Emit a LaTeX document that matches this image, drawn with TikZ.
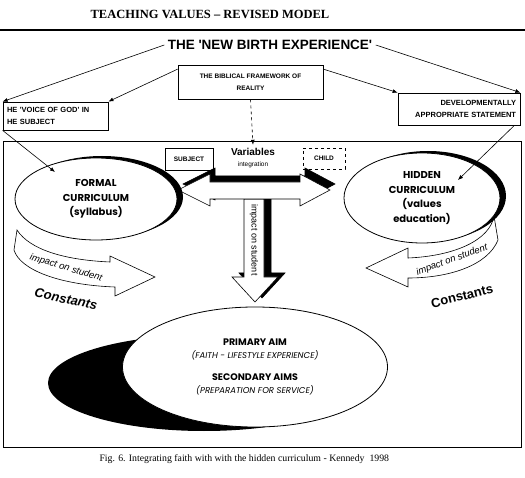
\documentclass[tikz,border=0pt]{standalone}
\usepackage{fontspec}
\setmainfont{Liberation Serif}
\setsansfont{Liberation Sans}
\newfontfamily\gothic{Poppins}
\usepackage{tikz}
\usetikzlibrary{arrows.meta, positioning, shapes.geometric, shadows}
\tikzset{
  box/.style     ={rectangle, draw=black, line width=0.8pt, fill=white,
                   inner sep=1pt, align=center,
                   font=\sffamily\bfseries\fontsize{6.5}{11.5}\selectfont},
  curric/.style  ={ellipse, draw=black, thick, fill=white, inner sep=0pt,
                   align=center, font=\gothic\bfseries\fontsize{10}{14.5}\selectfont,
                   drop shadow={shadow xshift=6pt, shadow yshift=2pt,
                                fill=black, opacity=1}},
  link/.style    ={-{Latex[length=5pt, width=4pt]}, line width=0.6pt, black},
  blockarrow/.style={draw=black, line width=0.6pt},
  bandtext/.style={font=\sffamily\itshape\fontsize{9.5}{11}\selectfont, inner sep=0pt},
  const/.style   ={font=\sffamily\bfseries\fontsize{13}{14}\selectfont, inner sep=0pt}
}
\begin{document}
\begin{tikzpicture}[x=1pt, y=-1pt,
  aims/.style={ellipse, draw=black, thick, fill=white, inner sep=0pt,
               align=center, font=\gothic\bfseries\fontsize{9.5}{13}\selectfont}
]
\useasboundingbox (0,0) rectangle (525,478);

% Heading
\node[font=\rmfamily\bfseries\fontsize{12.5}{14}\selectfont] (title) at (210,14)
     {TEACHING VALUES -- REVISED MODEL};
\draw[line width=1.2pt] (0,30) -- (525,30);

% Statements along the top
\node[font=\sffamily\bfseries\fontsize{13.5}{15}\selectfont] (birth) at (270,45)
     {THE \textquotesingle NEW BIRTH EXPERIENCE\textquotesingle};
\node[box, minimum width=145pt, minimum height=34pt] (biblical) at (250.5,82)
     {THE BIBLICAL FRAMEWORK OF\\REALITY};
\node[box, font=\sffamily\bfseries\fontsize{7.5}{11.5}\selectfont,
      minimum width=105pt, minimum height=28pt, align=left, text width=97pt]
     (voice) at (55.5,116) {HE \textquotesingle VOICE OF GOD\textquotesingle{} IN\\HE SUBJECT};
\node[box, font=\sffamily\bfseries\fontsize{7.5}{12.5}\selectfont,
      minimum width=122pt, minimum height=32pt, align=right, text width=114pt]
     (devel) at (459,109) {DEVELOPMENTALLY\\APPROPRIATE STATEMENT};

% Outer frame
\draw[thick] (3,141) rectangle (521,447);

% Variables (centre)
\node[font=\sffamily\bfseries\fontsize{10}{12}\selectfont] (variab) at (253,152) {Variables};
\node[font=\sffamily\fontsize{6.5}{8}\selectfont] (integ) at (253,165) {integration};
\node[box, minimum width=48pt, minimum height=22pt] (subject) at (189,159) {SUBJECT};
\node[box, dashed, minimum width=42pt, minimum height=21pt] (child) at (324,158.5) {CHILD};

% Block arrows with black offset shadow
\foreach \dx/\dy/\fc in {7/-4/black, 0/0/white}{
  \filldraw[blockarrow, fill=\fc, shift={(\dx,\dy)}]
    (244,199) -- (264,199) -- (264,277) -- (278,277) -- (255,302)
    -- (232,277) -- (244,277) -- cycle;
}
\foreach \dx/\dy/\fc in {5/-6/black, 0/0/white}{
  \filldraw[blockarrow, fill=\fc, shift={(\dx,\dy)}]
    (178,190) -- (210,174) -- (210,182) -- (300,182) -- (300,174) -- (330,190)
    -- (300,206) -- (300,199) -- (210,199) -- (210,206) -- cycle;
}
\node[font=\sffamily\fontsize{9}{10}\selectfont, rotate=-90] (impactv) at (254,240)
     {impact on student};

% Curved bands round the curricula
\filldraw[blockarrow, fill=white]
  (17,230) .. controls (30,250) and (65,260) .. (110,262) -- (110,256)
  -- (155,277) -- (115,296) -- (115,287)
  .. controls (60,285) and (20,270) .. (14,250) -- cycle;
\filldraw[blockarrow, fill=white]
  (408,258) .. controls (455,256) and (490,240) .. (494,216) -- (498,240)
  .. controls (488,265) and (450,278) .. (408,278) -- (408,287)
  -- (366,268) -- (408,248) -- cycle;
\node[bandtext, rotate=-17] (impactl) at (66,268) {impact on student};
\node[bandtext, rotate=20]  (impactr) at (452,260) {impact on student};
\node[const, font=\sffamily\bfseries\itshape\fontsize{13}{14}\selectfont, rotate=-12]
     (constl) at (66,299) {Constants};
\node[const, rotate=14]  (constr) at (462,296) {Constants};

% Curricula
\node[curric, minimum width=162pt, minimum height=82pt] (formal) at (96,199)
     {FORMAL\\CURRICULUM\\(syllabus)};
\node[curric, minimum width=156pt, minimum height=90pt] (hidden) at (422,198)
     {HIDDEN\\CURRICULUM\\(values\\education)};

% Aims
\fill[black] (204,383) ellipse [x radius=156, y radius=48];
\node[aims, minimum width=265pt, minimum height=120pt] (aims) at (255,367)
     {PRIMARY AIM\\
      {\itshape\mdseries\fontsize{8.5}{13}\selectfont (FAITH - LIFESTYLE EXPERIENCE)}\\[9pt]
      SECONDARY AIMS\\
      {\itshape\mdseries\fontsize{8.5}{13}\selectfont (PREPARATION FOR SERVICE)}};

% Connectors
\coordinate (formaltip) at (55,172);
\coordinate (hiddentip) at (458,180);
\draw[link] (birth.west) -- (voice.north west);
\draw[link] (birth.east) -- (devel.north east);
\draw[link] (biblical.170) -- (voice.north east);
\draw[link] (biblical.10) -- (devel.north west);
\draw[link, dashed] (biblical.south) -- (variab.north);
\draw[link] (voice.south west) -- (formaltip);
\draw[link] ([xshift=-6pt]devel.south east) -- (hiddentip);

% Caption
\node[font=\rmfamily\fontsize{9.8}{11}\selectfont, anchor=west] (caption) at (96,459)
     {Fig. 6. Integrating faith with with the hidden curriculum - Kennedy\ \ 1998};
\end{tikzpicture}
\end{document}
